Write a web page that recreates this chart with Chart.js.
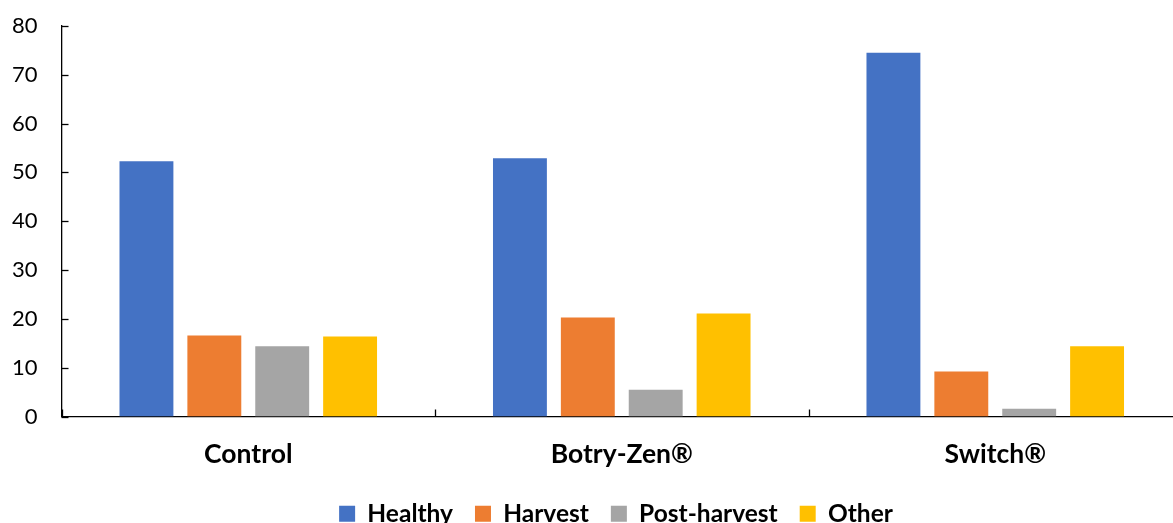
<!DOCTYPE html>
<html><head><meta charset="utf-8">
<script src="https://cdn.jsdelivr.net/npm/chart.js@4"></script>
<style>html,body{margin:0;padding:0;background:#fff;overflow:hidden;}#wrap{width:1182px;height:523px;}</style>
</head><body><div id="wrap"><canvas id="c"></canvas></div>
<script>
const categories = ["Control", "Botry-Zen®", "Switch®"];
const healthy = [52.3, 52.9, 74.5];
const harvest = [16.6, 20.3, 9.2];
const postHarvest = [14.4, 5.5, 1.6];
const other = [16.4, 21.1, 14.4];
const yTicks = [0, 10, 20, 30, 40, 50, 60, 70, 80];

const font = "Lato, 'Open Sans', sans-serif";
const innerTicks = {
  id: 'innerTicks',
  afterDraw(chart) {
    const ctx = chart.ctx, x = chart.scales.x, y = chart.scales.y;
    ctx.save();
    ctx.strokeStyle = '#000'; ctx.lineWidth = 1.3;
    y.ticks.forEach((t, i) => {
      const py = Math.round(y.getPixelForTick(i)) + 0.5;
      ctx.beginPath(); ctx.moveTo(x.left, py); ctx.lineTo(x.left + 7, py); ctx.stroke();
    });
    for (let i = 0; i <= categories.length; i++) {
      const px = x.getPixelForValue(i - 0.5);
      ctx.beginPath(); ctx.moveTo(Math.round(px) + 0.5, y.bottom); ctx.lineTo(Math.round(px) + 0.5, y.bottom - 7); ctx.stroke();
    }
    ctx.restore();
  }
};
const legendShift = {
  id: 'legendShift',
  afterLayout(chart) {
    const lg = chart.legend;
    if (lg) { lg.left += 27; lg.right += 27; }
  }
};

new Chart(document.getElementById('c'), {
  type: 'bar',
  data: {
    labels: categories,
    datasets: [
      {label: 'Healthy', data: healthy, backgroundColor: '#4472C4'},
      {label: 'Harvest', data: harvest, backgroundColor: '#ED7D31'},
      {label: 'Post-harvest', data: postHarvest, backgroundColor: '#A5A5A5'},
      {label: 'Other', data: other, backgroundColor: '#FFC000'}
    ]
  },
  options: {
    responsive: true, maintainAspectRatio: false, animation: false,
    datasets: {bar: {categoryPercentage: 0.727, barPercentage: 0.794}},
    layout: {padding: {top: 0, right: 0, left: -4, bottom: -13}},
    plugins: {
      tooltip: {enabled: false},
      legend: {
        position: 'bottom',
        labels: {font: {family: font, size: 24.5, weight: 'bold'}, color: '#000', boxWidth: 16, boxHeight: 16, padding: 22}
      }
    },
    scales: {
      x: {
        grid: {display: false},
        border: {color: '#000', width: 1.3},
        ticks: {font: {family: font, size: 26.5, weight: 'bold'}, color: '#000', padding: 14},
        afterFit(scale) { scale.height = 63; }
      },
      y: {
        min: 0, max: 80,
        afterBuildTicks(axis) { axis.ticks = yTicks.map(v => ({value: v})); },
        grid: {display: false},
        border: {color: '#000', width: 1.3},
        ticks: {font: {family: font, size: 22, lineHeight: 0.9}, color: '#000', padding: 16}
      }
    }
  },
  plugins: [innerTicks, legendShift]
});
</script></body></html>
